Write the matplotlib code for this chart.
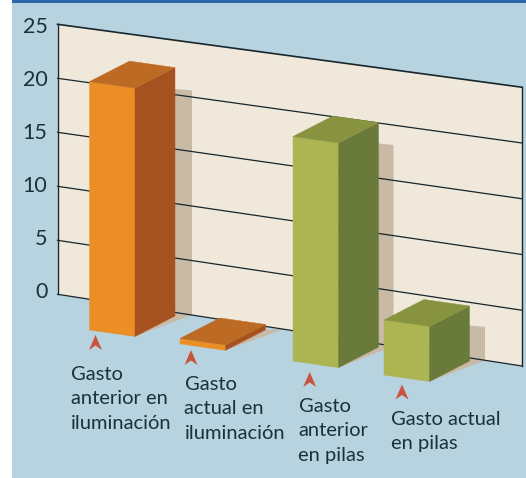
import matplotlib
matplotlib.use("Agg")
import matplotlib.pyplot as plt
from matplotlib.patches import Polygon, Rectangle

plt.rcParams["font.family"] = ["Lato", "DejaVu Sans"]

# data
categories = ["Gasto\nanterior en\niluminación", "Gasto\nactual en\niluminación",
              "Gasto\nanterior\nen pilas", "Gasto actual\nen pilas"]
bar_values = [23.0, 0.5, 20.8, 5.1]
shadow_values = [20.6, 0.0, 18.2, 3.0]
y_ticks = [0, 5, 10, 15, 20, 25]

# layout, in pixels of the picture
bar_left = [89.5, 180, 293, 384]
shadow_extra = [17, 18, 15, 15.5]
arrow_tip = [(95.5, 335), (191, 350), (309.7, 372), (402, 384.5)]
label_pos = [(71, 380), (184.5, 390), (298.5, 412), (391, 425)]
bar_colors = [("#EB8E26", "#A65220", "#BD6A25"), ("#EB8E26", "#A65220", "#BD6A25"),
              ("#ADB553", "#6A7A3A", "#889340"), ("#ADB553", "#6A7A3A", "#889340")]
text_color = "#1C3038"
line_color = "#16262C"
shadow_color = "#C9BAA6"

WALL_L, WALL_R = 57.5, 522
BAR_W, BAR_DY = 45.5, 6.5
DEPTH_X, DEPTH_Y = 40, -20.5
PX_PER_UNIT = 10.8


def wall_y(x, v):
    t = (x - WALL_L) / (WALL_R - WALL_L)
    left = 294.3 - 10.8 * v
    right = 366 - 11.15 * v
    return left + t * (right - left)


def floor_y(x):
    return 330 + 0.153 * (x - 89.5)


fig = plt.figure(figsize=(5.26, 4.78), dpi=100, facecolor="white")
ax = fig.add_axes([0, 0, 1, 1])
ax.set_xlim(0, 526)
ax.set_ylim(478, 0)
ax.set_axis_off()

ax.add_patch(Rectangle((12, 0), 514, 478, color="#B8D3E0", lw=0, zorder=0))
ax.add_patch(Rectangle((12, 0), 514, 3, color="#2F66A9", lw=0, zorder=1))

# back wall
ax.add_patch(Polygon([(WALL_L, wall_y(WALL_L, 25)), (WALL_R, wall_y(WALL_R, 25)),
                      (WALL_R, wall_y(WALL_R, 0)), (WALL_L, wall_y(WALL_L, 0))],
                     color="#F0E9DB", lw=0, zorder=1))

# shadows
for x, v, sv, extra in zip(bar_left, bar_values, shadow_values, shadow_extra):
    fx = x + BAR_W
    bx = fx + DEPTH_X
    sx = bx + extra
    pts = [(fx, floor_y(x) + BAR_DY), (sx, wall_y(sx, 0))]
    if sv > 0:
        pts += [(sx, wall_y(sx, sv)), (bx, wall_y(sx, sv) - 1.5)]
    else:
        pts += [(bx, floor_y(x) + BAR_DY + DEPTH_Y)]
    ax.add_patch(Polygon(pts, color=shadow_color, lw=0, zorder=2))

# grid and wall border
for v in y_ticks:
    lw = 1.2 if v == 25 else 0.9
    ax.plot([WALL_L, WALL_R], [wall_y(WALL_L, v), wall_y(WALL_R, v)],
            color=line_color, lw=lw, zorder=3, solid_capstyle="projecting")
    # the tick labels sit a little closer together than the grid lines
    ax.text(47.5, 291.7 - 10.58 * v, str(v), ha="right", va="center",
            fontsize=15.5, color=text_color, zorder=6)
ax.plot([WALL_L, WALL_L], [wall_y(WALL_L, 25), wall_y(WALL_L, 0)], color=line_color, lw=1.0, zorder=3)
ax.plot([WALL_R, WALL_R], [wall_y(WALL_R, 25), wall_y(WALL_R, 0)], color=line_color, lw=1.0, zorder=3)

# bars
for i, (x, v, cols) in enumerate(zip(bar_left, bar_values, bar_colors)):
    front, side, top = cols
    y0 = floor_y(x)
    h = v * PX_PER_UNIT
    xr = x + BAR_W
    z = 4 + i * 0.1
    ax.add_patch(Polygon([(x, y0), (xr, y0 + BAR_DY), (xr, y0 + BAR_DY - h), (x, y0 - h)],
                         fc=front, ec=front, lw=0.3, zorder=z))
    ax.add_patch(Polygon([(xr, y0 + BAR_DY), (xr + DEPTH_X, y0 + BAR_DY + DEPTH_Y),
                          (xr + DEPTH_X, y0 + BAR_DY + DEPTH_Y - h), (xr, y0 + BAR_DY - h)],
                         fc=side, ec=side, lw=0.3, zorder=z))
    ax.add_patch(Polygon([(x, y0 - h), (xr, y0 + BAR_DY - h),
                          (xr + DEPTH_X, y0 + BAR_DY + DEPTH_Y - h), (x + DEPTH_X, y0 + DEPTH_Y - h)],
                         fc=top, ec=top, lw=0.3, zorder=z))

# arrows and labels
for (tx, ty), (lx, ly), label in zip(arrow_tip, label_pos, categories):
    ax.add_patch(Polygon([(tx, ty), (tx + 6.5, ty + 15), (tx, ty + 10.5), (tx - 6.5, ty + 15)],
                         color="#C9533F", lw=0, zorder=5))
    for n, line in enumerate(label.split("\n")):
        ax.text(lx, ly + n * 24.5, line, ha="left", va="baseline",
                fontsize=14.5, color=text_color, zorder=6)

fig.savefig("out.png", dpi=100, facecolor="white")
